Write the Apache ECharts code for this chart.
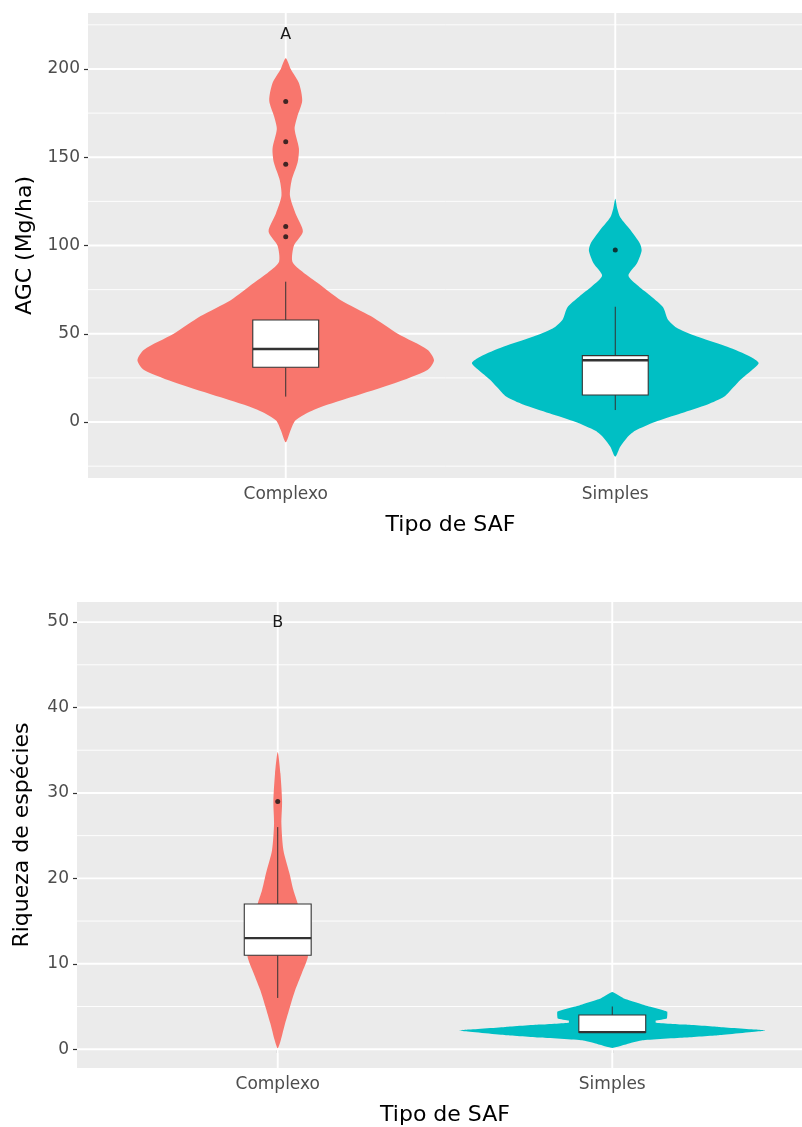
<!DOCTYPE html>
<html>
<head>
<meta charset="utf-8">
<script src="https://cdn.jsdelivr.net/npm/echarts@6/dist/echarts.min.js"></script>
<style>
  html, body { margin: 0; padding: 0; background: #ffffff; overflow: hidden; }
  #chart { width: 802px; height: 1127px; }
</style>
</head>
<body>
<div id="chart"></div>
<script>
// ---- Data ----------------------------------------------------------------
const categories = ['Complexo', 'Simples'];
const fillColors = ['#F8766D', '#00BFC4'];

// Violin outlines: [value, half width in category units]
const agcViolinComplexo = [
  [206, 0], [200, 0.015], [192, 0.04], [182, 0.05], [173, 0.035], [166, 0.027],
  [155, 0.04], [147, 0.036], [137, 0.018], [128, 0.013], [118, 0.03], [108, 0.052],
  [100, 0.025], [91, 0.02], [86, 0.045], [79, 0.095], [69, 0.167], [60, 0.258],
  [50, 0.34], [41, 0.43], [35, 0.45], [29.5, 0.43], [22, 0.33], [14, 0.197],
  [7, 0.086], [1, 0.03], [-4.5, 0.015], [-11.5, 0]
];
const agcViolinSimples = [
  [126.5, 0], [121, 0.006], [116, 0.015], [109, 0.045], [101, 0.075], [97, 0.08],
  [90, 0.066], [83, 0.04], [77, 0.07], [71, 0.11], [65, 0.145], [58, 0.16],
  [53, 0.19], [48, 0.255], [42.6, 0.34], [37, 0.41], [33.5, 0.435], [29.5, 0.415],
  [24, 0.38], [20, 0.36], [14.3, 0.33], [10, 0.28], [5, 0.2], [0, 0.12],
  [-5, 0.06], [-9, 0.035], [-14, 0.015], [-19.6, 0]
];
const richViolinComplexo = [
  [34.8, 0], [32.3, 0.008], [29, 0.013], [26.4, 0.011], [23.3, 0.017], [20.6, 0.035],
  [18.6, 0.047], [17, 0.06], [14, 0.078], [12, 0.088], [10.8, 0.09], [8.9, 0.072],
  [6.9, 0.052], [5, 0.037], [3, 0.022], [1.05, 0.009], [0.1, 0]
];
const richViolinSimples = [
  [6.7, 0], [5.9, 0.037], [5.15, 0.097], [4.4, 0.164], [3.6, 0.163], [3.35, 0.13],
  [3.11, 0.13], [2.88, 0.218], [2.61, 0.318], [2.3, 0.43], [2.2, 0.457], [2.1, 0.44],
  [1.64, 0.318], [1.37, 0.218], [1.05, 0.09], [0.67, 0.05], [0.15, 0]
];

// Box summaries: [lower whisker, Q1, median, Q3, upper whisker]
const agcBoxes = [[14.4, 31, 41.4, 57.8, 79.5], [6.8, 15.3, 35, 37.6, 65.3]];
const richBoxes = [[6, 11, 13, 17, 26], [2, 2, 2, 4, 5]];

// Outliers: [category position, value]
const agcOutliers = [[1, 181.5], [1, 158.8], [1, 146], [1, 110.7], [1, 105], [2, 97.5]];
const richOutliers = [[1, 29]];

// Group letters: [category position, value, text]
const agcLetters = [[1, 220, 'A']];
const richLetters = [[1, 50, 'B']];

// Axis ticks
const agcMajorTicks = [0, 50, 100, 150, 200];
const agcMinorTicks = [-25, 25, 75, 125, 175, 225];
const richMajorTicks = [0, 10, 20, 30, 40, 50];
const richMinorTicks = [5, 15, 25, 35, 45];
const categoryTicks = [1, 2];

// ---- Rendering helpers ---------------------------------------------------
const FONT = 'DejaVu Sans';
const BOX_HALF = 0.1;

function hLines(params, api) {
  const cs = params.coordSys;
  const y = api.coord([1, api.value(0)])[1];
  return {
    type: 'line',
    shape: { x1: cs.x, y1: y, x2: cs.x + cs.width, y2: y },
    style: { stroke: '#ffffff', lineWidth: api.value(1) ? 1.9 : 0.9 }
  };
}
function vLines(params, api) {
  const cs = params.coordSys;
  const x = api.coord([api.value(0), 0])[0];
  return {
    type: 'line',
    shape: { x1: x, y1: cs.y, x2: x, y2: cs.y + cs.height },
    style: { stroke: '#ffffff', lineWidth: 1.9 }
  };
}
function violinRenderer(profiles, smooth) {
  return function (params, api) {
    const idx = api.value(0);
    const prof = profiles[idx];
    const cx = idx + 1;
    const right = prof.map(([v, w]) => api.coord([cx + w, v]));
    const left = prof.slice(1, -1).reverse().map(([v, w]) => api.coord([cx - w, v]));
    return {
      type: 'polygon',
      shape: { points: right.concat(left), smooth: smooth[idx] },
      style: { fill: fillColors[idx], stroke: null }
    };
  };
}
function boxRenderer(boxes) {
  return function (params, api) {
    const idx = api.value(0);
    const [lo, q1, med, q3, hi] = boxes[idx];
    const cx = idx + 1;
    const pLo = api.coord([cx, lo]);
    const pHi = api.coord([cx, hi]);
    const pQ1L = api.coord([cx - BOX_HALF, q1]);
    const pQ3R = api.coord([cx + BOX_HALF, q3]);
    const pMedL = api.coord([cx - BOX_HALF, med]);
    const pMedR = api.coord([cx + BOX_HALF, med]);
    const stroke = '#333333';
    return {
      type: 'group',
      children: [
        { type: 'line', shape: { x1: pLo[0], y1: pLo[1], x2: pLo[0], y2: pQ1L[1] }, style: { stroke, lineWidth: 1 } },
        { type: 'line', shape: { x1: pHi[0], y1: pHi[1], x2: pHi[0], y2: pQ3R[1] }, style: { stroke, lineWidth: 1 } },
        { type: 'rect', shape: { x: pQ1L[0], y: pQ3R[1], width: pQ3R[0] - pQ1L[0], height: pQ1L[1] - pQ3R[1] },
          style: { fill: '#ffffff', stroke, lineWidth: 1.1 } },
        { type: 'line', shape: { x1: pMedL[0], y1: pMedL[1], x2: pMedR[0], y2: pMedR[1] }, style: { stroke, lineWidth: 2.4 } }
      ]
    };
  };
}
function letterRenderer(letters) {
  return function (params, api) {
    const item = letters[params.dataIndex];
    const p = api.coord([item[0], item[1]]);
    return {
      type: 'text',
      x: p[0], y: p[1] + 1,
      style: { text: item[2], fontFamily: FONT, fontSize: 16, fill: '#1a1a1a', align: 'center', verticalAlign: 'middle' }
    };
  };
}

function axisPair(gridIndex, yMin, yMax, majorTicks, yName, nameGap) {
  const xAxis = {
    gridIndex, type: 'value', min: 0.4, max: 2.6,
    name: 'Tipo de SAF', nameLocation: 'middle', nameGap: 36,
    nameTextStyle: { fontFamily: FONT, fontSize: 22, color: '#000000' },
    axisLine: { show: false },
    splitLine: { show: false },
    axisTick: { show: true, length: 4, customValues: categoryTicks, lineStyle: { color: '#333333', width: 1.2 } },
    axisLabel: {
      customValues: categoryTicks, margin: 8,
      fontFamily: FONT, fontSize: 17, color: '#4D4D4D',
      formatter: v => categories[Math.round(v) - 1] || ''
    }
  };
  const yAxis = {
    gridIndex, type: 'value', min: yMin, max: yMax,
    name: yName, nameLocation: 'middle', nameRotate: 90, nameGap,
    nameTextStyle: { fontFamily: FONT, fontSize: 22, color: '#000000' },
    axisLine: { show: false },
    splitLine: { show: false },
    axisTick: { show: true, length: 4, customValues: majorTicks, lineStyle: { color: '#333333', width: 1.2 } },
    axisLabel: { customValues: majorTicks, margin: 8, fontFamily: FONT, fontSize: 17, color: '#4D4D4D' }
  };
  return [xAxis, yAxis];
}

const [x0, y0] = axisPair(0, -31.7, 231.7, agcMajorTicks, 'AGC (Mg/ha)', 52);
const [x1, y1] = axisPair(1, -2.2, 52.35, richMajorTicks, 'Riqueza de espécies', 44);

function panelSeries(i, majors, minors, profiles, smooth, boxes, outliers, letters) {
  const gridData = majors.map(v => [v, 1]).concat(minors.map(v => [v, 0]));
  return [
    { type: 'custom', xAxisIndex: i, yAxisIndex: i, silent: true, z: 1, renderItem: hLines, data: gridData },
    { type: 'custom', xAxisIndex: i, yAxisIndex: i, silent: true, z: 1, renderItem: vLines, data: categoryTicks.map(v => [v]) },
    { type: 'custom', xAxisIndex: i, yAxisIndex: i, silent: true, z: 2, renderItem: violinRenderer(profiles, smooth), data: [[0], [1]] },
    { type: 'custom', xAxisIndex: i, yAxisIndex: i, silent: true, z: 3, renderItem: boxRenderer(boxes), data: [[0], [1]] },
    { type: 'scatter', xAxisIndex: i, yAxisIndex: i, silent: true, z: 4, symbol: 'circle', symbolSize: 5,
      itemStyle: { color: '#111111' }, data: outliers },
    { type: 'custom', xAxisIndex: i, yAxisIndex: i, silent: true, z: 5, renderItem: letterRenderer(letters),
      data: letters.map(l => [l[0], l[1]]) }
  ];
}

const chart = echarts.init(document.getElementById('chart'), null, { renderer: 'canvas', width: 802, height: 1127 });
chart.setOption({
  animation: false,
  backgroundColor: '#ffffff',
  grid: [
    // the panels run slightly past the right edge of the canvas
    { left: 88, top: 13, width: 725, height: 465, outerBoundsMode: 'none', containLabel: false,
      show: true, backgroundColor: '#EBEBEB', borderWidth: 0 },
    { left: 77, top: 602, width: 736, height: 466, outerBoundsMode: 'none', containLabel: false,
      show: true, backgroundColor: '#EBEBEB', borderWidth: 0 }
  ],
  xAxis: [x0, x1],
  yAxis: [y0, y1],
  series: [
    ...panelSeries(0, agcMajorTicks, agcMinorTicks, [agcViolinComplexo, agcViolinSimples], [0.25, 0.25],
      agcBoxes, agcOutliers, agcLetters),
    ...panelSeries(1, richMajorTicks, richMinorTicks, [richViolinComplexo, richViolinSimples], [0.25, 0.1],
      richBoxes, richOutliers, richLetters)
  ]
});
</script>
</body>
</html>
